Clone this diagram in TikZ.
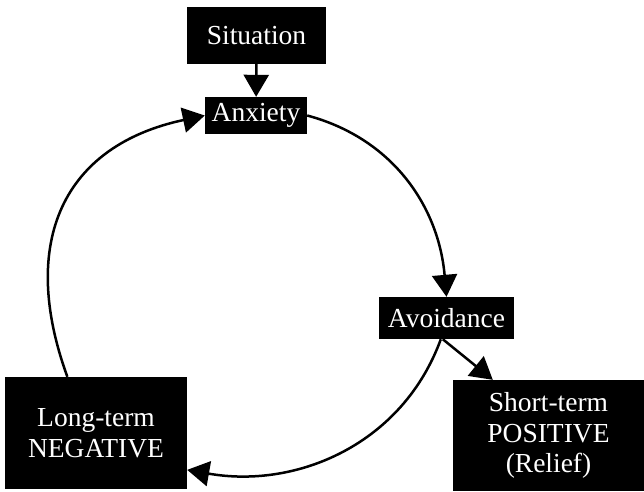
\documentclass[tikz,border=0pt]{standalone}
\usepackage{fontspec}
\setmainfont{Liberation Serif}
\usetikzlibrary{arrows.meta}
\tikzset{
  blackbox/.style={fill=black, text=white, inner sep=0pt, align=center,
    font=\fontsize{27.5}{30.5}\selectfont},
  cyclearrow/.style={line width=2.5pt, -{Triangle[length=22pt,width=25pt]}}
}
\begin{document}
\begin{tikzpicture}[x=1pt,y=1pt]
  \useasboundingbox (0,0) rectangle (644,-491);

  % Boxes
  \node[blackbox, minimum width=139pt, minimum height=57pt] (sit) at (256.5,-35.5) {Situation};
  \node[blackbox, minimum width=102pt, minimum height=37pt] (anx) at (256,-115.5) {Anxiety};
  \node[blackbox, minimum width=135pt, minimum height=42pt] (avo) at (446.5,-318) {Avoidance};
  \node[blackbox, minimum width=182pt, minimum height=112pt] (lt) at (96,-433) {Long-term\\NEGATIVE};
  \node[blackbox, minimum width=191pt, minimum height=111pt] (st) at (548.5,-435.5) {Short-term\\POSITIVE\\(Relief)};

  % Arrows
  \draw[cyclearrow] (sit) -- (anx);
  \draw[cyclearrow] (anx.east) to[out=-15,in=95] (avo.north);
  \draw[cyclearrow] (avo.255) to[out=-110,in=-10] (lt.-22);
  \draw[cyclearrow] (lt.117) to[out=110,in=192,looseness=1.25] (anx.west);
  \draw[cyclearrow] (avo.260) -- (st.135);

\end{tikzpicture}
\end{document}
